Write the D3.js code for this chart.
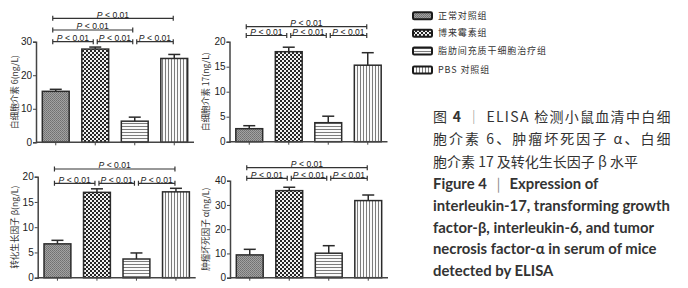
<!DOCTYPE html>
<html>
<head>
<meta charset="utf-8">
<script src="https://cdn.jsdelivr.net/npm/d3@7"></script>
<style>
  body { margin: 0; background: #fff; }
  svg { display: block; }
</style>
</head>
<body>
<svg id="chart" width="688" height="288"></svg>
<script>
// groups (legend order)
const groups = ['正常对照组', '博来霉素组', '脂肪间充质干细胞治疗组', 'PBS 对照组'];

// IL-6
const il6Mean = [15.2, 27.8, 6.3, 25.0];
const il6Sd = [0.6, 0.6, 1.2, 1.2];
const il6Ticks = [0, 10, 20, 30];
// IL-17
const il17Mean = [2.6, 18.0, 3.8, 15.3];
const il17Sd = [0.6, 0.9, 1.3, 2.5];
const il17Ticks = [0, 5, 10, 15, 20];
// TGF-beta
const tgfMean = [6.7, 16.9, 3.7, 17.0];
const tgfSd = [0.7, 0.7, 1.2, 0.7];
const tgfTicks = [0, 5, 10, 15, 20];
// TNF-alpha
const tnfMean = [9.4, 35.9, 10.1, 31.8];
const tnfSd = [2.3, 1.4, 3.1, 2.3];
const tnfTicks = [0, 10, 20, 30, 40];

// significance brackets: [from, to, row]
const il6Brackets = [[0, 3, 0], [0, 2, 1], [0, 1, 2], [1, 2, 2], [2, 3, 2]];
const otherBrackets = [[0, 3, 0], [0, 1, 1], [1, 2, 1], [2, 3, 1]];
const pText = '< 0.01';

const cnLines = ['胞介素 6、肿瘤坏死因子 α、白细', '胞介素 17 及转化生长因子 β 水平'];
const enLines = [
    'interleukin-17, transforming growth',
    'factor-β, interleukin-6, and tumor',
    'necrosis factor-α in serum of mice',
    'detected by ELISA'
];

const svg = d3.select('#chart');
const ink = '#2b2b2b';

// fill patterns
const defs = svg.append('defs');
const p0 = defs.append('pattern').attr('id', 'pat0').attr('patternUnits', 'userSpaceOnUse')
    .attr('width', 2).attr('height', 2);
p0.append('rect').attr('width', 2).attr('height', 2).attr('fill', '#a2a2a2');
p0.append('rect').attr('width', 1).attr('height', 1).attr('fill', '#707070');
p0.append('rect').attr('x', 1).attr('y', 1).attr('width', 1).attr('height', 1).attr('fill', '#7a7a7a');

const p1 = defs.append('pattern').attr('id', 'pat1').attr('patternUnits', 'userSpaceOnUse')
    .attr('width', 4).attr('height', 4);
p1.append('rect').attr('width', 4).attr('height', 4).attr('fill', '#f2f2f2');
p1.append('rect').attr('width', 2).attr('height', 2).attr('fill', '#262626');
p1.append('rect').attr('x', 2).attr('y', 2).attr('width', 2).attr('height', 2).attr('fill', '#262626');

const p2 = defs.append('pattern').attr('id', 'pat2').attr('patternUnits', 'userSpaceOnUse')
    .attr('width', 4).attr('height', 3);
p2.append('rect').attr('width', 4).attr('height', 3).attr('fill', '#fafafa');
p2.append('rect').attr('width', 4).attr('height', 1).attr('fill', '#7c7c7c');

const p3 = defs.append('pattern').attr('id', 'pat3').attr('patternUnits', 'userSpaceOnUse')
    .attr('width', 3).attr('height', 4);
p3.append('rect').attr('width', 3).attr('height', 4).attr('fill', '#fafafa');
p3.append('rect').attr('width', 1).attr('height', 4).attr('fill', '#7c7c7c');

const fills = ['url(#pat0)', 'url(#pat1)', 'url(#pat2)', 'url(#pat3)'];

const panels = [
    {mean: il6Mean, sd: il6Sd, ticks: il6Ticks, label: '白细胞介素 6(ng/L)',
     x0: 36, bottom: 142.3, top: 41.7, labelX: 15, brackets: il6Brackets, rows: [18.3, 30, 41.7]},
    {mean: il17Mean, sd: il17Sd, ticks: il17Ticks, label: '白细胞介素 17(ng/L)',
     x0: 229.5, bottom: 141.7, top: 41.7, labelX: 206, brackets: otherBrackets, rows: [26.7, 35.5]},
    {mean: tgfMean, sd: tgfSd, ticks: tgfTicks, label: '转化生长因子 β(ng/L)',
     x0: 37.7, bottom: 277.7, top: 176.7, labelX: 15, brackets: otherBrackets, rows: [169, 183.3]},
    {mean: tnfMean, sd: tnfSd, ticks: tnfTicks, label: '肿瘤坏死因子 α(ng/L)',
     x0: 230, bottom: 277.7, top: 180.7, labelX: 206, brackets: otherBrackets, rows: [167.7, 178.3]}
];

panels.forEach(p => {
    const g = svg.append('g');
    const x = d3.scaleBand()
        .domain(d3.range(groups.length))
        .range([p.x0, p.x0 + 158])
        .paddingInner(0.32)
        .paddingOuter(0.16);
    const y = d3.scaleLinear()
        .domain([0, d3.max(p.ticks)])
        .range([p.bottom, p.top]);
    const cx = i => x(i) + x.bandwidth() / 2;

    // error bars
    p.mean.forEach((m, i) => {
        g.append('line')
            .attr('x1', cx(i)).attr('x2', cx(i))
            .attr('y1', y(m)).attr('y2', y(m + p.sd[i]))
            .attr('stroke', ink).attr('stroke-width', 1.5);
        g.append('line')
            .attr('x1', cx(i) - 6).attr('x2', cx(i) + 6)
            .attr('y1', y(m + p.sd[i])).attr('y2', y(m + p.sd[i]))
            .attr('stroke', ink).attr('stroke-width', 1.5);
    });

    // bars
    g.selectAll('.bar')
        .data(p.mean)
        .enter().append('rect')
        .attr('class', 'bar')
        .attr('x', (d, i) => x(i))
        .attr('y', d => y(d))
        .attr('width', x.bandwidth())
        .attr('height', d => y(0) - y(d))
        .attr('fill', (d, i) => fills[i])
        .attr('stroke', ink)
        .attr('stroke-width', 1.5);

    // y axis
    const ya = g.append('g')
        .attr('transform', `translate(${p.x0},0)`)
        .call(d3.axisLeft(y).tickValues(p.ticks).tickSize(3).tickPadding(1));
    ya.select('.domain').attr('stroke', '#444').attr('stroke-width', 1.5);
    ya.selectAll('.tick line').attr('stroke', '#444');
    ya.selectAll('.tick text')
        .attr('fill', '#222')
        .style('font-family', '"Liberation Sans", Arial, sans-serif')
        .style('font-size', '10px');

    // x axis
    const xa = g.append('g')
        .attr('transform', `translate(0,${p.bottom})`)
        .call(d3.axisBottom(x).tickSize(3).tickFormat(''));
    xa.select('.domain').attr('stroke', '#444').attr('stroke-width', 1.5)
        .attr('d', `M${p.x0},0H${p.x0 + 158}`);
    xa.selectAll('.tick line').attr('stroke', '#444');

    // y label
    g.append('text')
        .attr('transform', `translate(${p.labelX},${(p.top + p.bottom) / 2}) rotate(-90)`)
        .attr('text-anchor', 'middle')
        .attr('dy', '0.35em')
        .attr('fill', '#333')
        .style('font-family', '"Noto Sans CJK SC", sans-serif')
        .style('font-size', '8.6px')
        .text(p.label);

    // significance brackets
    p.brackets.forEach(([a, b, row]) => {
        const yy = p.rows[row];
        const xa1 = cx(a) + (a === 0 ? -3 : 2);
        const xb1 = cx(b) + (b === 3 ? -1 : -2);
        g.append('path')
            .attr('d', `M${xa1},${yy - 2.5}V${yy + 2.5}M${xa1},${yy}H${xb1}M${xb1},${yy - 2.5}V${yy + 2.5}`)
            .attr('fill', 'none')
            .attr('stroke', '#333')
            .attr('stroke-width', 1.2);
        const t = g.append('text')
            .attr('x', (xa1 + xb1) / 2)
            .attr('y', yy - 0.8)
            .attr('text-anchor', 'middle')
            .attr('fill', '#222')
            .style('font-family', '"Liberation Sans", Arial, sans-serif')
            .style('font-size', '8.6px');
        t.append('tspan').style('font-style', 'italic').text('P');
        t.append('tspan').text(' ' + pText);
    });
});

// legend
const legend = svg.append('g').attr('transform', 'translate(413,0)');
groups.forEach((name, i) => {
    const ly = [15.7, 33.3, 51, 70][i];
    legend.append('rect')
        .attr('x', 0).attr('y', ly - 3.5)
        .attr('width', 19).attr('height', 7)
        .attr('rx', 1.2)
        .attr('fill', fills[i])
        .attr('stroke', '#1a1a1a')
        .attr('stroke-width', 2);
    legend.append('text')
        .attr('x', 25).attr('y', ly)
        .attr('dy', '0.35em')
        .attr('fill', '#333')
        .style('font-family', '"Noto Sans CJK SC", sans-serif')
        .style('font-size', '9px')
        .style('letter-spacing', '0.9px')
        .text(name);
});

// caption (Chinese)
const cnFont = '"Noto Sans CJK SC", sans-serif';
const c1 = svg.append('text')
    .attr('x', 433).attr('y', 121.5)
    .attr('fill', '#333')
    .style('font-family', cnFont).style('font-size', '14px')
    .attr('textLength', 237.5).attr('lengthAdjust', 'spacing');
c1.append('tspan').text('图 ');
c1.append('tspan').style('font-weight', 'bold').text('4');
c1.append('tspan').attr('fill', '#888').style('font-weight', '300').text(' ｜ ');
c1.append('tspan').text('ELISA 检测小鼠血清中白细');

cnLines.forEach((s, i) => {
    const t = svg.append('text')
        .attr('x', 433).attr('y', 144 + i * 22.5)
        .attr('fill', '#333')
        .style('font-family', cnFont).style('font-size', '14px')
        .text(s);
    if (i === 0) t.attr('textLength', 237.5).attr('lengthAdjust', 'spacing');
});

// caption (English)
const enFont = 'Lato, "Open Sans", sans-serif';
const e0 = svg.append('text')
    .attr('x', 433).attr('y', 189.3)
    .attr('fill', '#333')
    .style('font-family', enFont).style('font-weight', 'bold');
e0.append('tspan').text('Figure 4');
e0.append('tspan').attr('fill', '#888').style('font-weight', 'normal').text('  ｜  ');
e0.append('tspan').text('Expression of');
const enTexts = [e0];
enLines.forEach((s, i) => {
    enTexts.push(svg.append('text')
        .attr('x', 433).attr('y', 189.3 + (i + 1) * 21.7)
        .attr('fill', '#333')
        .style('font-family', enFont).style('font-weight', 'bold')
        .text(s));
});
enTexts.forEach(t => t.style('font-size', '14px'));
const len = enTexts[1].node().getComputedTextLength();
const fs = 14 * 237 / len;
enTexts.forEach(t => t.style('font-size', fs + 'px'));
</script>
</body>
</html>
